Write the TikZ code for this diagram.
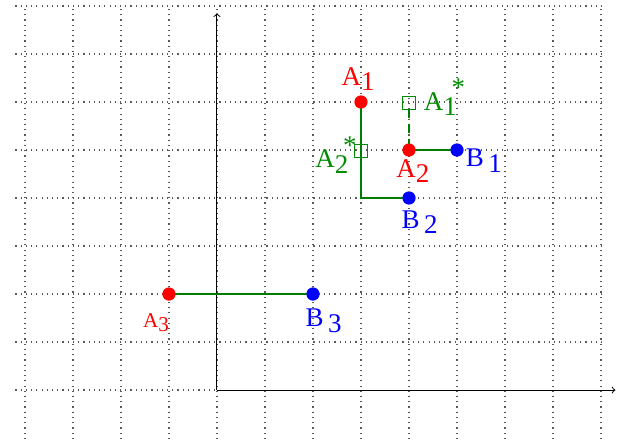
\documentclass[tikz,border=0pt]{standalone}
\usepackage{fontspec}
\setmainfont{Liberation Serif}
\definecolor{ptgreen}{RGB}{0,140,0}
\definecolor{lngreen}{RGB}{0,125,0}

\newcommand{\sub}[2]{#1\raisebox{-.45ex}{#2}}
\newcommand{\subst}[2]{#1\rlap{\raisebox{-.45ex}{#2}}\kern.3em\raisebox{1.1ex}{*}}

\begin{document}
\begin{tikzpicture}[
    gridline/.style={gray!70!black, line width=.7pt, dash pattern=on .7pt off 2.4pt},
    axis/.style={black, line width=.6pt, ->},
    redpt/.style={circle, fill=red, inner sep=0pt, minimum size=.27cm},
    bluept/.style={circle, fill=blue, inner sep=0pt, minimum size=.27cm},
    optpt/.style={draw=ptgreen, rectangle, line width=.8pt, inner sep=0pt, minimum size=.26cm},
    pathline/.style={lngreen, line width=1.5pt},
    lbl/.style={font=\fontsize{16}{18}\selectfont, inner sep=0pt},
  ]
  \useasboundingbox (-4.52,-1.146) rectangle (8.354,8.125);

  % grid
  \foreach \x in {-4,...,8}
    \draw[gridline] (\x,-1.02) -- (\x,8);
  \foreach \y in {1,...,8}
    \draw[gridline] (-4.2,\y) -- (8.05,\y);
  \draw[gridline] (-4.2,0) -- (0,0);

  % axes
  \coordinate (o) at (0,0);
  \coordinate (xend) at (8.3,0);
  \coordinate (yend) at (0,7.85);
  \draw[axis] (o) -- (xend);
  \draw[axis] (o) -- (yend);

  % points
  \node[redpt] (A1) at (3,6) {};
  \node[redpt] (A2) at (4,5) {};
  \node[redpt] (A3) at (-1,2) {};
  \node[bluept] (B1) at (5,5) {};
  \node[bluept] (B2) at (4,4) {};
  \node[bluept] (B3) at (2,2) {};
  \node[optpt] (A1s) at (4,5.98) {};
  \node[optpt] (A2s) at (3,4.98) {};

  % paths
  \draw[pathline] (A1.center) |- (B2.center);
  \draw[pathline] (A2.center) -- (B1.center);
  \draw[pathline] (A3.center) -- (B3.center);
  \draw[pathline, dash pattern=on 5pt off 3.5pt] (A1s.south) -- (A2.center);
  \node[redpt] at (A1) {};
  \node[redpt] at (A2) {};
  \node[redpt] at (A3) {};
  \node[bluept] at (B1) {};
  \node[bluept] at (B2) {};
  \node[bluept] at (B3) {};

  % labels
  \node[lbl, red] (lA1) at (2.94,6.48) {\sub{A}{1}};
  \node[lbl, red] (lA2) at (4.08,4.56) {\sub{A}{2}};
  \node[lbl, red, font=\fontsize{12.5}{14}\selectfont] (lA3) at (-1.27,1.41) {\sub{A}{3}};
  \node[lbl, blue] (lB1) at (5.56,4.78) {\sub{B\,}{1}};
  \node[lbl, blue] (lB2) at (4.22,3.5) {\sub{B\,}{2}};
  \node[lbl, blue] (lB3) at (2.22,1.44) {\sub{B\,}{3}};
  \node[lbl, ptgreen] (lA1s) at (4.74,6.1) {\subst{A}{1}};
  \node[lbl, ptgreen] (lA2s) at (2.48,4.9) {\subst{A}{2}};
\end{tikzpicture}
\end{document}
